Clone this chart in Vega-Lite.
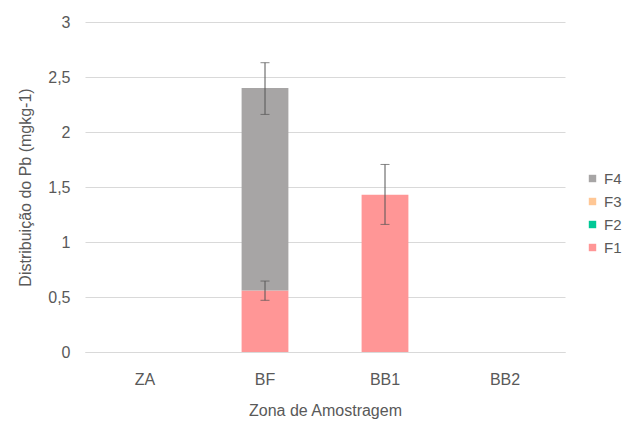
{
  "$schema": "https://vega.github.io/schema/vega-lite/v6.json",
  "autosize": "none",
  "width": 480,
  "height": 330,
  "padding": {"left": 85, "top": 22, "right": 76, "bottom": 71},
  "background": "white",
  "config": {
    "view": {"stroke": null},
    "font": "Liberation Sans",
    "axis": {"labelColor": "#595959", "titleColor": "#595959", "labelFontSize": 16, "titleFontSize": 16, "titleFontWeight": "normal"},
    "legend": {"labelColor": "#595959", "labelFontSize": 15}
  },
  "datasets": {
    "bars": [
      {"zona": "ZA", "fracao": "F1", "valor": 0},
      {"zona": "ZA", "fracao": "F2", "valor": 0},
      {"zona": "ZA", "fracao": "F3", "valor": 0},
      {"zona": "ZA", "fracao": "F4", "valor": 0},
      {"zona": "BF", "fracao": "F1", "valor": 0.56},
      {"zona": "BF", "fracao": "F2", "valor": 0},
      {"zona": "BF", "fracao": "F3", "valor": 0},
      {"zona": "BF", "fracao": "F4", "valor": 1.84},
      {"zona": "BB1", "fracao": "F1", "valor": 1.43},
      {"zona": "BB1", "fracao": "F2", "valor": 0},
      {"zona": "BB1", "fracao": "F3", "valor": 0},
      {"zona": "BB1", "fracao": "F4", "valor": 0},
      {"zona": "BB2", "fracao": "F1", "valor": 0},
      {"zona": "BB2", "fracao": "F2", "valor": 0},
      {"zona": "BB2", "fracao": "F3", "valor": 0},
      {"zona": "BB2", "fracao": "F4", "valor": 0}
    ],
    "errs": [
      {"zona": "BF", "lo": 0.47, "hi": 0.645},
      {"zona": "BF", "lo": 2.16, "hi": 2.63},
      {"zona": "BB1", "lo": 1.16, "hi": 1.705}
    ]
  },
  "layer": [
    {
      "data": {"name": "bars"},
      "mark": {"type": "bar"},
      "encoding": {
        "x": {
          "field": "zona", "type": "nominal", "sort": ["ZA", "BF", "BB1", "BB2"],
          "scale": {"paddingInner": 0.61, "paddingOuter": 0.305},
          "axis": {"title": "Zona de Amostragem", "labelAngle": 0, "ticks": false, "domainColor": "#d9d9d9", "labelPadding": 19, "titlePadding": 15}
        },
        "y": {
          "field": "valor", "type": "quantitative", "aggregate": "sum", "stack": "zero",
          "scale": {"domain": [0, 3]},
          "axis": {"title": "Distribuição do Pb (mgkg-1)", "values": [0, 0.5, 1, 1.5, 2, 2.5, 3], "format": ",.1~f", "labelExpr": "replace(datum.label, '.', ',')", "domain": false, "ticks": false, "gridColor": "#d9d9d9", "labelPadding": 15, "titlePadding": 14}
        },
        "color": {
          "field": "fracao", "type": "nominal",
          "scale": {"domain": ["F4", "F3", "F2", "F1"], "range": ["#a7a5a5", "#ffc795", "#00c896", "#ff9696"]},
          "legend": {"title": null, "orient": "none", "legendX": 500, "legendY": 149, "symbolType": "square", "symbolSize": 55, "symbolStrokeWidth": 0, "rowPadding": 7, "labelOffset": 4}
        },
        "order": {"field": "fracao", "sort": "ascending"}
      }
    },
    {
      "data": {"name": "errs"},
      "mark": {"type": "rule", "color": "#555555", "strokeWidth": 1},
      "encoding": {
        "x": {"field": "zona", "type": "nominal", "sort": ["ZA", "BF", "BB1", "BB2"]},
        "y": {"field": "lo", "type": "quantitative"},
        "y2": {"field": "hi"}
      }
    },
    {
      "data": {"name": "errs"},
      "mark": {"type": "tick", "color": "#555555", "thickness": 1, "size": 9},
      "encoding": {
        "x": {"field": "zona", "type": "nominal", "sort": ["ZA", "BF", "BB1", "BB2"]},
        "y": {"field": "lo", "type": "quantitative"}
      }
    },
    {
      "data": {"name": "errs"},
      "mark": {"type": "tick", "color": "#555555", "thickness": 1, "size": 9},
      "encoding": {
        "x": {"field": "zona", "type": "nominal", "sort": ["ZA", "BF", "BB1", "BB2"]},
        "y": {"field": "hi", "type": "quantitative"}
      }
    }
  ]
}
